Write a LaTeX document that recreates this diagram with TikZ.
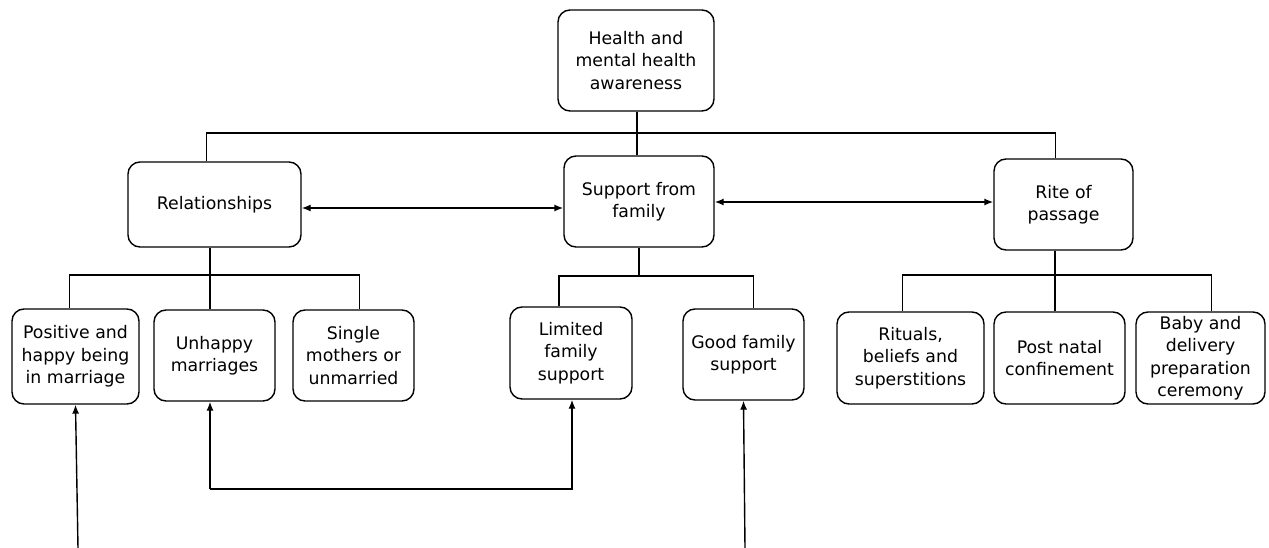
\documentclass[tikz,border=0pt]{standalone}
\usepackage{fontspec}
\setmainfont{DejaVu Sans}
\usetikzlibrary{arrows.meta,positioning}
\tikzset{>={Latex[length=9pt,width=7pt]}}
\tikzset{box/.style={draw,rounded corners=12pt,line width=1.4pt,align=center,inner sep=0pt,
    font=\fontsize{17.3}{22.5}\selectfont}}

\begin{document}
\begin{tikzpicture}[x=1pt,y=-1pt,line width=1.4pt]
  \useasboundingbox (0,0) rectangle (1269,548);
  % Nodes
  \node[box,minimum width=156pt,minimum height=101pt] (health) at (636,60.5) {Health and\\mental health\\awareness};
  \node[box,minimum width=173pt,minimum height=85pt] (rel) at (214.5,204.5) {Relationships};
  \node[box,minimum width=150pt,minimum height=91pt] (supp) at (639,201.5) {Support from\\family};
  \node[box,minimum width=139pt,minimum height=91pt] (rite) at (1063.5,204.5) {Rite of\\passage};

  \node[box,minimum width=127pt,minimum height=95pt] (pos) at (75.5,356.5) {Positive and\\happy being\\in marriage};
  \node[box,minimum width=121pt,minimum height=91pt] (unhappy) at (214.5,355.5) {Unhappy\\marriages};
  \node[box,minimum width=121pt,minimum height=91pt] (single) at (353.5,355.5) {Single\\mothers or\\unmarried};
  \node[box,minimum width=122pt,minimum height=92pt] (limited) at (571,353) {Limited\\family\\support};
  \node[box,minimum width=121pt,minimum height=91pt] (good) at (743.5,354.5) {Good family\\support};
  \node[box,minimum width=147pt,minimum height=92pt] (rituals) at (910.5,358) {Rituals,\\beliefs and\\superstitions};
  \node[box,minimum width=131pt,minimum height=92pt] (postnatal) at (1059.5,358) {Post natal\\confinement};
  \node[box,minimum width=129pt,minimum height=92pt] (baby) at (1200.5,358) {Baby and\\delivery\\preparation\\ceremony};

  % Free ends
  \coordinate (topbus) at (637,133);
  \coordinate (relbus) at (210,275);
  \coordinate (suppbus) at (639,276);
  \coordinate (ritebus) at (1055,275);
  \coordinate (posfoot) at (78,548);
  \coordinate (goodfoot) at (745,548);
  \coordinate (loopleft) at (210,489);
  \coordinate (loopright) at (572,489);

  % Tree lines
  \draw (health.south -| topbus) -- (supp.north -| topbus);
  \draw ([xshift=-8pt]rel.north) |- (topbus) -| ([xshift=-8pt]rite.north);
  \draw (rel.south -| relbus) -- (unhappy.north -| relbus);
  \draw ([xshift=-6pt]pos.north) |- (relbus) -| ([xshift=6pt]single.north);
  \draw (supp.south) -- (suppbus);
  \draw ([xshift=-12pt]limited.north) |- (suppbus) -| ([xshift=10pt]good.north);
  \draw (rite.south -| ritebus) -- (postnatal.north -| ritebus);
  \draw ([xshift=-8pt]rituals.north) |- (ritebus) -| ([xshift=11pt]baby.north);

  % Arrows between the main themes
  \draw[<->] (rel.east |- 0,208) -- (supp.west |- 0,208);
  \draw[<->] (supp.east |- 0,202) -- (rite.west |- 0,202);

  % Arrows from below
  \draw[->] (posfoot) -- (pos.south);
  \draw[->] (goodfoot) -- (good.south);
  \draw[->] (loopleft) -- (unhappy.south -| loopleft);
  \draw[->] (loopleft) -- (loopright) -- (limited.south -| loopright);
\end{tikzpicture}
\end{document}
